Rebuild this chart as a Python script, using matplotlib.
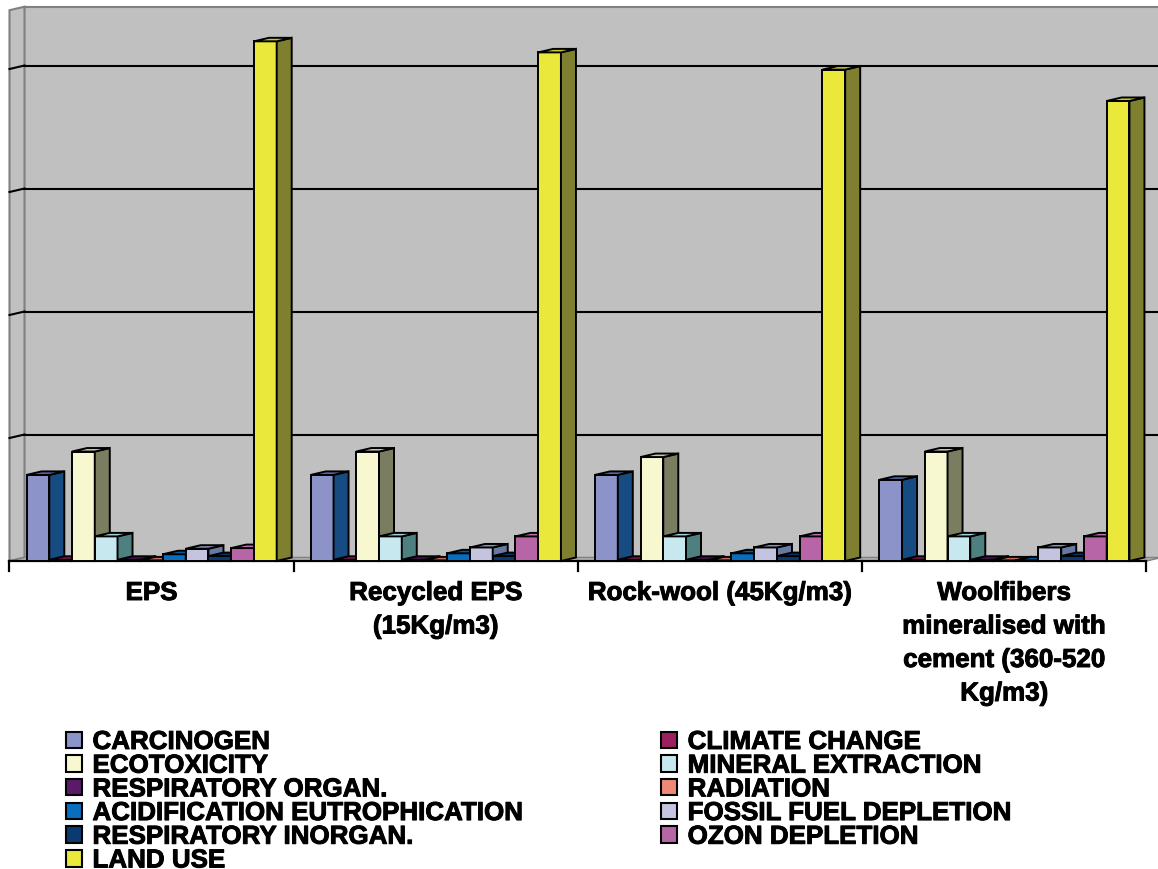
import matplotlib.pyplot as plt
import matplotlib.patheffects as pe
from matplotlib.patches import Polygon, Patch

plt.rcParams['font.family'] = ['Liberation Sans', 'DejaVu Sans']

groups = ['EPS', 'Recycled EPS\n(15Kg/m3)', 'Rock-wool (45Kg/m3)',
          'Woolfibers\nmineralised with\ncement (360-520\nKg/m3)']

series_names = ['CARCINOGEN', 'CLIMATE CHANGE', 'ECOTOXICITY', 'MINERAL EXTRACTION',
                'RESPIRATORY ORGAN.', 'RADIATION', 'ACIDIFICATION EUTROPHICATION',
                'FOSSIL FUEL DEPLETION', 'RESPIRATORY INORGAN.', 'OZON DEPLETION', 'LAND USE']

carcinogen = [14.0, 14.0, 14.0, 13.2]
climate_change = [0.2, 0.2, 0.2, 0.2]
ecotoxicity = [17.8, 17.8, 16.9, 17.8]
mineral_extraction = [4.0, 4.0, 4.0, 4.0]
respiratory_organ = [0.2, 0.2, 0.2, 0.2]
radiation = [0.1, 0.1, 0.1, 0.1]
acidification = [1.1, 1.25, 1.25, 0.1]
fossil_fuel = [2.0, 2.2, 2.2, 2.2]
respiratory_inorg = [0.8, 0.8, 0.8, 0.8]
ozon_depletion = [2.1, 4.0, 4.0, 4.0]
land_use = [84.5, 82.7, 79.9, 74.8]

values = [carcinogen, climate_change, ecotoxicity, mineral_extraction, respiratory_organ,
          radiation, acidification, fossil_fuel, respiratory_inorg, ozon_depletion, land_use]

front = ['#8C93C8', '#9A2060', '#F7F7D0', '#C8E8F0', '#5A1A68', '#F08878',
         '#0A6EBE', '#C4C4E0', '#0A3A70', '#B865A8', '#EAE83A']
side = ['#164C82', '#4D1030', '#7B7D60', '#4E8080', '#2D0D34', '#78443C',
        '#05375F', '#6878A0', '#051D38', '#5C3354', '#7E8030']
top = ['#5C6CA8', '#7A1850', '#C8C8A0', '#A0D0D8', '#481454', '#C06C60',
       '#0858A0', '#8890B8', '#083060', '#C070B0', '#C8C830']

# layout (pixels of the 1158x870 picture)
W, H = 1158, 870
X0, Y0 = 9.5, 562.0          # front-left corner of floor
PXG = 284.25                 # px per category
PXV = 6.15                   # px per value unit
DX, DY = 15 / PXG, 3.5 / PXV  # 3d depth
WALL_TOP = (562 - 7.7) / PXV
BW = 0.08
FS = 18.7
heavy = [pe.withStroke(linewidth=0.7, foreground='black')]

fig = plt.figure(figsize=(W / 100, H / 100), dpi=100)
ax = fig.add_axes([0, 0, 1, 1])
ax.set_xlim(-X0 / PXG, (W - X0) / PXG)
ax.set_ylim((Y0 - H) / PXV, Y0 / PXV)
ax.axis('off')

xmax = (W - X0) / PXG + 0.1
ng = len(groups)

# back wall
ax.add_patch(Polygon([(DX, DY), (xmax, DY), (xmax, WALL_TOP), (DX, WALL_TOP)],
                     closed=True, fc='#C0C0C0', ec='#808080', lw=1.5, zorder=0))
# left wall
ax.add_patch(Polygon([(0, 0), (DX, DY), (DX, WALL_TOP), (0, WALL_TOP - DY)],
                     closed=True, fc='#C0C0C0', ec='#808080', lw=1.5, zorder=0))
# floor
ax.add_patch(Polygon([(0, 0), (ng, 0), (ng + DX, DY), (DX, DY)],
                     closed=True, fc='#B4B4B4', ec='#808080', lw=1.0, zorder=1))
ax.plot([0, ng], [0, 0], color='black', lw=1.6, zorder=1.5)

# gridlines
for k in range(1, 5):
    ax.plot([DX, xmax], [DY + 20 * k, DY + 20 * k], color='black', lw=1.5, zorder=0.5)
    ax.plot([0, DX], [20 * k, DY + 20 * k], color='black', lw=1.5, zorder=0.5)

# category ticks
for g in range(ng + 1):
    ax.plot([g, g], [0, -10 / PXV], color='black', lw=1.6, zorder=1.5)

# bars
z = 2
nser = len(values)
start = (1 - nser * BW) / 2
for g in range(ng):
    for s in range(nser):
        v = values[s][g]
        x = g + start + s * BW
        ax.add_patch(Polygon([(x, 0), (x + BW, 0), (x + BW, v), (x, v)], closed=True,
                             fc=front[s], ec='black', lw=1.4, zorder=z))
        ax.add_patch(Polygon([(x + BW, 0), (x + BW + DX, DY), (x + BW + DX, v + DY), (x + BW, v)],
                             closed=True, fc=side[s], ec='black', lw=1.4, zorder=z))
        ax.add_patch(Polygon([(x, v), (x + BW, v), (x + BW + DX, v + DY), (x + DX, v + DY)],
                             closed=True, fc=top[s], ec='black', lw=1.4, zorder=z))
        z += 1

# category labels
for g, name in enumerate(groups):
    ax.text(g + 0.5, (Y0 - 582) / PXV, name, ha='center', va='top', fontsize=FS,
            fontweight='bold', linespacing=1.5, path_effects=heavy)

# legend, filled row by row
order = list(range(0, nser, 2)) + list(range(1, nser, 2))
handles = [Patch(fc=front[i], ec='black', lw=1.5, label=series_names[i]) for i in order]
leg = fig.legend(handles=handles, ncol=2, loc='upper left',
                 bbox_to_anchor=(66 / W, 1 - 731 / H), frameon=False, borderpad=0,
                 prop={'weight': 'bold', 'size': FS},
                 handlelength=0.6, handleheight=0.6, handletextpad=0.42,
                 labelspacing=-0.012, columnspacing=5.3, borderaxespad=0)
for t in leg.get_texts():
    t.set_path_effects(heavy)

fig.savefig('out.png', dpi=100)
